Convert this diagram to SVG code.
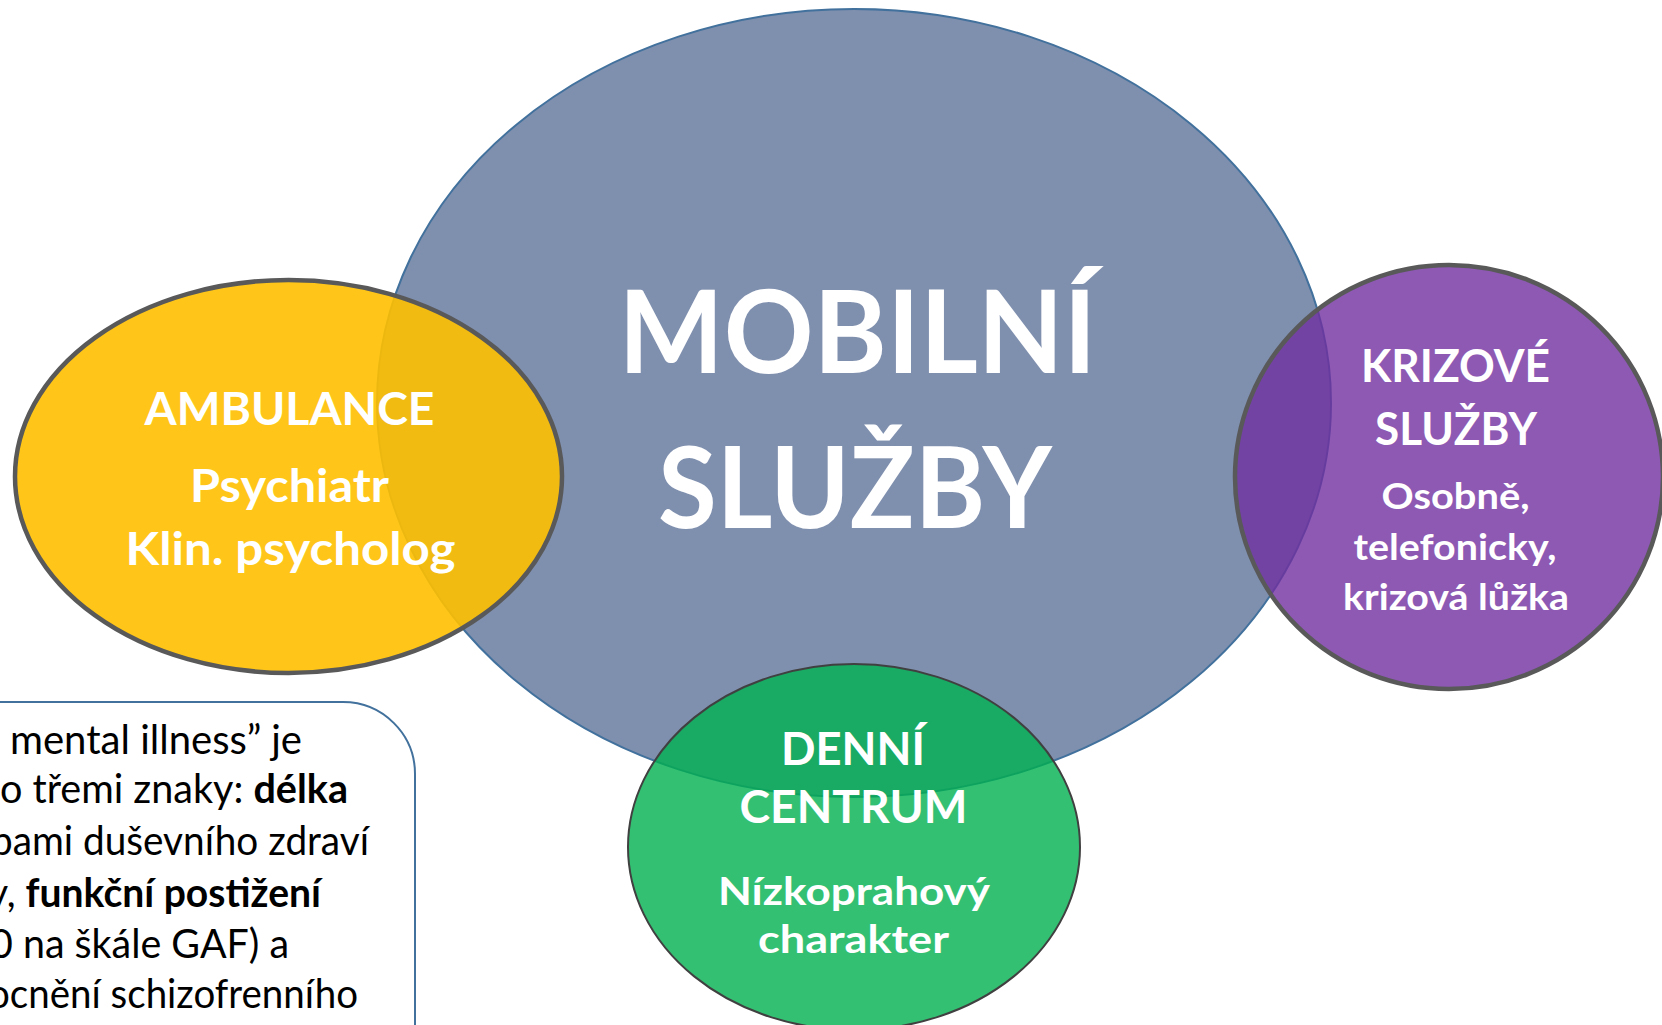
<svg xmlns="http://www.w3.org/2000/svg" width="1662" height="1025" viewBox="0 0 1662 1025">
  <style>
    .lbl { font-family: Lato, "Open Sans", "Liberation Sans", sans-serif; font-weight: 700; fill: #ffffff; text-anchor: middle; }
    .note { font-family: Lato, "Open Sans", "Liberation Sans", sans-serif; font-size: 41px; fill: #000000; }
    .note tspan.b { font-weight: 700; }
    .bubble { stroke: #595959; stroke-width: 4.5; }
  </style>

  <rect x="0" y="0" width="1662" height="1025" fill="#ffffff"/>

  <!-- central service -->
  <g id="mobilni-sluzby">
    <ellipse cx="854" cy="403" rx="477" ry="394" fill="#7F8FAE" stroke="#41719C" stroke-width="2"/>
  </g>

  <!-- outpatient care -->
  <g id="ambulance">
    <ellipse class="bubble" cx="288.5" cy="476.5" rx="273.5" ry="196.5" fill="#FFC000" fill-opacity="0.9"/>
    <text class="lbl" x="289.5" y="425" font-size="46" textLength="290" lengthAdjust="spacingAndGlyphs">AMBULANCE</text>
    <text class="lbl" x="289.5" y="502" font-size="45" textLength="199" lengthAdjust="spacingAndGlyphs">Psychiatr</text>
    <text class="lbl" x="290.5" y="565" font-size="46" textLength="330" lengthAdjust="spacingAndGlyphs">Klin. psycholog</text>
  </g>

  <!-- crisis services -->
  <g id="krizove-sluzby">
    <ellipse class="bubble" cx="1449" cy="477" rx="214" ry="212" fill="#7030A0" fill-opacity="0.8"/>
    <text class="lbl" x="1455.5" y="382" font-size="46" textLength="189" lengthAdjust="spacingAndGlyphs">KRIZOVÉ</text>
    <text class="lbl" x="1456" y="445" font-size="45" textLength="162" lengthAdjust="spacingAndGlyphs">SLUŽBY</text>
    <text class="lbl" x="1455.5" y="509" font-size="37" textLength="148" lengthAdjust="spacingAndGlyphs">Osobně,</text>
    <text class="lbl" x="1455" y="560" font-size="37" textLength="203" lengthAdjust="spacingAndGlyphs">telefonicky,</text>
    <text class="lbl" x="1456" y="610" font-size="37" textLength="226" lengthAdjust="spacingAndGlyphs">krizová lůžka</text>
  </g>

  <!-- day centre -->
  <g id="denni-centrum">
    <ellipse cx="854" cy="847" rx="226" ry="183" fill="#00B050" fill-opacity="0.8" stroke="#404040" stroke-width="2"/>
    <text class="lbl" x="853" y="765" font-size="46" textLength="144" lengthAdjust="spacingAndGlyphs">DENNÍ</text>
    <text class="lbl" x="853.5" y="823" font-size="46" textLength="228" lengthAdjust="spacingAndGlyphs">CENTRUM</text>
    <text class="lbl" x="854" y="905" font-size="39" textLength="272" lengthAdjust="spacingAndGlyphs">Nízkoprahový</text>
    <text class="lbl" x="853.5" y="953" font-size="39" textLength="191" lengthAdjust="spacingAndGlyphs">charakter</text>
  </g>

  <!-- central title drawn above the overlapping bubbles -->
  <g id="mobilni-title">
    <text class="lbl" x="857.5" y="373" font-size="114" textLength="478" lengthAdjust="spacingAndGlyphs">MOBILNÍ</text>
    <text class="lbl" x="855" y="528" font-size="113" textLength="394" lengthAdjust="spacingAndGlyphs">SLUŽBY</text>
  </g>

  <!-- definition note box -->
  <g id="note">
    <rect x="-300" y="702" width="715" height="500" rx="72" ry="72" fill="#ffffff" stroke="#41719C" stroke-width="2"/>
    <text class="note" x="10" y="754" textLength="292" lengthAdjust="spacingAndGlyphs">mental illness” je</text>
    <text class="note" x="0" y="803" textLength="348" lengthAdjust="spacingAndGlyphs">o třemi znaky: <tspan class="b">délka</tspan></text>
    <text class="note" x="-9" y="855" textLength="378" lengthAdjust="spacingAndGlyphs">pami duševního zdraví</text>
    <text class="note" x="-12" y="907" textLength="333" lengthAdjust="spacingAndGlyphs">y, <tspan class="b">funkční postižení</tspan></text>
    <text class="note" x="-10" y="958" textLength="299" lengthAdjust="spacingAndGlyphs">0 na škále GAF) a</text>
    <text class="note" x="-12" y="1008" textLength="370" lengthAdjust="spacingAndGlyphs">ocnění schizofrenního</text>
  </g>

  <!-- no connectors in this diagram -->
  <g id="connectors"/>
</svg>
